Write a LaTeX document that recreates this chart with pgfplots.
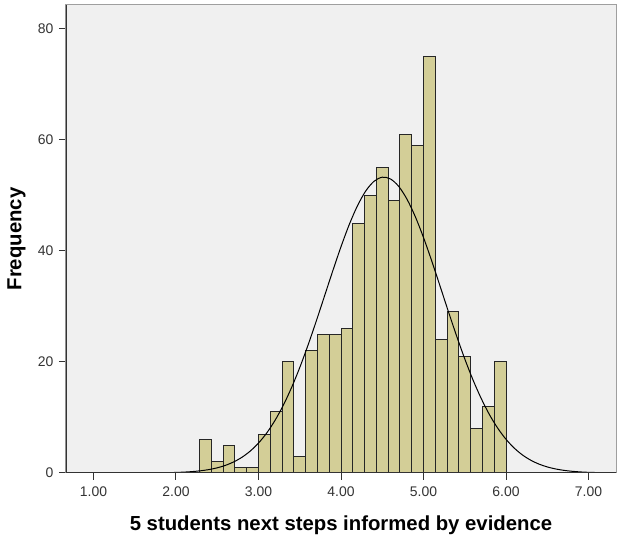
\documentclass[border=0pt]{standalone}
\usepackage{fontspec}
\setmainfont{Liberation Sans}
\usepackage{pgfplots}
\pgfplotsset{compat=1.18}
\definecolor{bgc}{HTML}{F0F0F0}
\definecolor{barc}{HTML}{D3CE97}
\definecolor{tickc}{HTML}{333333}
\begin{document}
\begin{tikzpicture}
\begin{axis}[
  scale only axis, width=550bp, height=468bp,
  xmin=0.667, xmax=7.333, ymin=0, ymax=84.3,
  xtick={1,2,3,4,5,6,7}, ytick={0,20,40,60,80},
  /pgf/number format/assume math mode=true,
  xticklabel style={yshift=-3bp, /pgf/number format/fixed, /pgf/number format/fixed zerofill, /pgf/number format/precision=2},
  yticklabel style={xshift=-2bp},
  tick pos=left,
  tick align=outside, major tick length=7bp,
  tick style={black!80, line width=1bp},
  axis line style={draw=gray!75, line width=1bp},
  axis background/.style={fill=bgc},
  ticklabel style={font=\fontsize{14}{16}\selectfont, text=tickc},
  xlabel={5 students next steps informed by evidence},
  ylabel={Frequency},
  label style={font=\fontsize{20.4}{23}\selectfont\bfseries},
  xlabel style={at={(axis description cs:0.5,-0.111)}, anchor=center},
  ylabel style={at={(axis description cs:-0.0900,0.5)}, anchor=center},
]
\addplot[ybar interval, fill=barc, draw=black!85, line width=1bp] coordinates {
(2.2857,6) (2.4286,2) (2.5714,5) (2.7143,1) (2.8571,1)
(3.0000,7) (3.1429,11) (3.2857,20) (3.4286,3) (3.5714,22)
(3.7143,25) (3.8571,25) (4.0000,26) (4.1429,45) (4.2857,50)
(4.4286,55) (4.5714,49) (4.7143,61) (4.8571,59) (5.0000,75)
(5.1429,24) (5.2857,29) (5.4286,21) (5.5714,8) (5.7143,12)
(5.8571,20) (6.0000,20)
};
\addplot[smooth, black, line width=1bp, no marks] coordinates {
(0.667,0) (1.0,0) (1.5,0.006) (1.8,0.035) (1.9,0.059) (2.0,0.098)
(2.1,0.160) (2.2,0.256) (2.3,0.402) (2.4,0.617) (2.5,0.931)
(2.6,1.376) (2.7,1.996) (2.8,2.835) (2.9,3.948) (3.0,5.39)
(3.1,7.21) (3.2,9.47) (3.3,12.18) (3.4,15.36) (3.5,18.99)
(3.6,23.02) (3.7,27.35) (3.8,31.87) (3.9,36.40) (4.0,40.76)
(4.1,44.75) (4.2,48.15) (4.3,50.80) (4.4,52.54) (4.5,53.28)
(4.6,52.96) (4.7,51.62) (4.8,49.31) (4.9,46.19) (5.0,42.41)
(5.1,38.18) (5.2,33.69) (5.3,29.15) (5.4,24.73) (5.5,20.56)
(5.6,16.76) (5.7,13.40) (5.8,10.49) (5.9,8.06) (6.0,6.07)
(6.1,4.48) (6.2,3.24) (6.3,2.30) (6.4,1.60) (6.5,1.09)
(6.6,0.730) (6.7,0.478) (6.8,0.307) (6.9,0.193) (7.0,0.119)
(7.2,0.043) (7.333,0.01)
};
\draw[black!80, line width=1.2bp] (rel axis cs:0,1) -- (rel axis cs:0,0) -- (rel axis cs:1,0);
\coordinate (sw) at (rel axis cs:0,0);
\coordinate (ne) at (rel axis cs:1,1);
\end{axis}
\pgfresetboundingbox
\path ([shift={(-66bp,-68bp)}]sw) rectangle ([shift={(2bp,5bp)}]ne);
\end{tikzpicture}
\end{document}
